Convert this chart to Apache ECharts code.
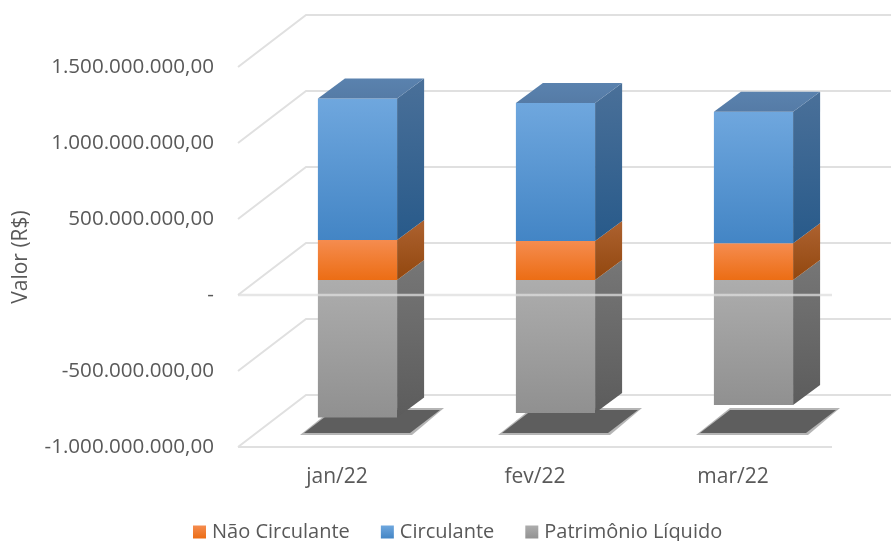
<!DOCTYPE html>
<html>
<head>
<meta charset="utf-8">
<style>html,body{margin:0;padding:0;background:#fff}#c{width:891px;height:541px}</style>
<script src="https://cdn.jsdelivr.net/npm/echarts@6/dist/echarts.min.js"></script>
</head>
<body>
<div id="c"></div>
<script>
const categories = ['jan/22', 'fev/22', 'mar/22'];
const naoCirculante = [263000000, 257000000, 241000000];
const circulante = [931000000, 908000000, 866000000];
const patrimonioLiquido = [-905000000, -875000000, -822000000];
const gridValues = [-1000000000, -500000000, 0, 500000000, 1000000000, 1500000000];
const frontLineValues = [-1000000000, 0];

const WALL_DX = 68, WALL_DY = 52;
const BAR_DX = 27, BAR_DY = 20;
const PLANE_DX = 20.5, PLANE_DY = 15;

const grad = (a, b) => ({type: 'linear', x: 0, y: 0, x2: 0, y2: 1,
  colorStops: [{offset: 0, color: a}, {offset: 1, color: b}]});

const fmt = v => {
  if (v === 0) return '-';
  const s = Math.abs(v).toString().replace(/\B(?=(\d{3})+(?!\d))/g, '.') + ',00';
  return (v < 0 ? '-' : '') + s;
};

function poly(points, fill) {
  return {type: 'polygon', shape: {points}, style: {fill}};
}

function barRenderer(front, side, top) {
  return function (params, api) {
    const i = api.value(0);
    const a = api.coord([i, api.value(1)]);
    const b = api.coord([i, api.value(2)]);
    const w = api.size([1, 0])[0] * 0.4;
    const xl = a[0] + PLANE_DX - w / 2, xr = xl + w;
    const yTop = Math.min(a[1], b[1]) - PLANE_DY, yBot = Math.max(a[1], b[1]) - PLANE_DY;
    const children = [
      poly([[xl, yTop], [xr, yTop], [xr, yBot], [xl, yBot]], front),
      poly([[xr, yTop], [xr + BAR_DX, yTop - BAR_DY], [xr + BAR_DX, yBot - BAR_DY], [xr, yBot]], side)
    ];
    if (top) children.push(poly([[xl, yTop], [xl + BAR_DX, yTop - BAR_DY], [xr + BAR_DX, yTop - BAR_DY], [xr, yTop]], top));
    return {type: 'group', children};
  };
}

const stacked = (base, vals) => vals.map((v, i) => [i, base ? base[i] : 0, (base ? base[i] : 0) + v]);

const lineStyle = {stroke: '#e0e0e0', lineWidth: 2, fill: 'none'};

const option = {
  animation: false,
  backgroundColor: '#ffffff',
  textStyle: {fontFamily: 'Open Sans'},
  grid: {left: 238, right: 59, top: 67, bottom: 94, containLabel: false},
  xAxis: {
    type: 'category', data: categories,
    axisLine: {show: false}, axisTick: {show: false}, splitLine: {show: false},
    axisLabel: {color: '#595959', fontSize: 21, margin: 20, fontFamily: 'Open Sans'}
  },
  yAxis: {
    type: 'value', min: -1000000000, max: 1500000000, interval: 500000000,
    name: 'Valor (R$)', nameLocation: 'middle', nameGap: 206,
    nameTextStyle: {color: '#595959', fontSize: 21, fontFamily: 'Open Sans'},
    axisLine: {show: false}, axisTick: {show: false}, splitLine: {show: false},
    axisLabel: {color: '#595959', fontSize: 20.6, margin: 24, padding: [3, 0, 0, 0], fontFamily: 'Open Sans', formatter: fmt}
  },
  legend: {
    data: ['Não Circulante', 'Circulante', 'Patrimônio Líquido'],
    left: 193, top: 522, padding: 0, itemWidth: 13, itemHeight: 13, itemGap: 31, icon: 'rect',
    textStyle: {color: '#595959', fontSize: 20, fontFamily: 'Open Sans', padding: [0, 0, 0, 1]}
  },
  series: [
    {
      type: 'custom', name: 'walls', silent: true, z: 1,
      data: gridValues.map(v => [0, v]),
      renderItem(params, api) {
        const p = api.coord([0, api.value(1)]);
        const c = params.coordSys;
        return {type: 'polyline',
          shape: {points: [[c.x, p[1]], [c.x + WALL_DX, p[1] - WALL_DY], [c.x + c.width + WALL_DX, p[1] - WALL_DY]]},
          style: lineStyle};
      }
    },
    {
      type: 'custom', name: 'floorFront', silent: true, z: 1,
      data: [[0, frontLineValues[0]]],
      renderItem(params, api) {
        const p = api.coord([0, api.value(1)]);
        const c = params.coordSys;
        return {type: 'line', shape: {x1: c.x, y1: p[1], x2: c.x + c.width, y2: p[1]},
          style: lineStyle};
      }
    },
    {
      type: 'custom', name: 'shadow', silent: true, z: 2,
      data: categories.map((_, i) => [i, frontLineValues[0]]),
      renderItem(params, api) {
        const p = api.coord([api.value(0), api.value(1)]);
        const x = p[0], y = p[1];
        return {type: 'group', children: [
          poly([[x - 37, y - 12], [x + 75, y - 12], [x + 107, y - 39], [x - 3, y - 39]], '#b5b5b5'),
          poly([[x - 33, y - 14], [x + 73, y - 14], [x + 103, y - 37], [x - 3, y - 37]], '#5e5e5e')
        ]};
      }
    },
    {
      type: 'custom', name: 'Patrimônio Líquido', z: 3,
      itemStyle: {color: grad('#adadad', '#929292')},
      data: stacked(null, patrimonioLiquido),
      renderItem: barRenderer(grad('#adadad', '#909090'), grad('#767676', '#5c5c5c'), null)
    },
    {
      type: 'custom', name: 'Não Circulante', z: 4,
      itemStyle: {color: grad('#f58c4f', '#ec6d14')},
      data: stacked(null, naoCirculante),
      renderItem: barRenderer(grad('#f58c4f', '#ec6d14'), grad('#ad6230', '#92470e'), null)
    },
    {
      type: 'custom', name: 'Circulante', z: 5,
      itemStyle: {color: grad('#6fa7de', '#4385c5')},
      data: stacked(naoCirculante, circulante),
      renderItem: barRenderer(grad('#6fa7de', '#4385c5'), grad('#4a7099', '#285a8a'), grad('#5a82ae', '#557ba6'))
    },
    {
      type: 'custom', name: 'zeroLine', silent: true, z: 6,
      data: [[0, frontLineValues[1]]],
      renderItem(params, api) {
        const p = api.coord([0, api.value(1)]);
        const c = params.coordSys;
        return {type: 'line', shape: {x1: c.x, y1: p[1], x2: c.x + c.width, y2: p[1]},
          style: {stroke: 'rgba(222,222,222,0.75)', lineWidth: 2.5}};
      }
    }
  ]
};
const chart = echarts.init(document.getElementById('c'), null, {renderer: 'canvas'});
chart.setOption(option);
</script>
</body>
</html>
